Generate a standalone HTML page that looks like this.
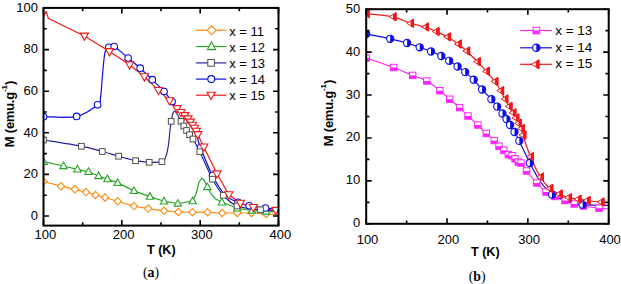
<!DOCTYPE html>
<html><head><meta charset="utf-8"><style>
html,body{margin:0;padding:0;background:#fff;}
body{width:621px;height:284px;position:relative;overflow:hidden;color:#000;}
div{-webkit-text-stroke:0;}
.ns{-webkit-text-stroke:0;}
</style></head><body>
<svg width="621" height="284" viewBox="0 0 621 284" style="position:absolute;left:0;top:0">
<defs><clipPath id="ca"><rect x="43.5" y="7.9" width="235" height="217.7"/></clipPath>
<clipPath id="cb"><rect x="366.2" y="9.2" width="242.5" height="214.6"/></clipPath></defs>
<g clip-path="url(#ca)">
<path d="M43.5 181.5L61 186.2L74.9 189.3L86 192.1L95.5 195L105 197.5L117.7 201.3L134 206.1L148.3 208.6L164.1 210.8L178.4 212L192.5 212.3L207.5 212.3L222.2 213L237.3 213L251.5 213L266.2 214L278.5 214.6" fill="none" stroke="#ff8a10" stroke-width="1.2" stroke-linejoin="round"/>
<path d="M43.5 161.7L63.5 166L77.4 169.3L88.5 171.8L98.6 176L107.5 179.1L117.7 182.9L134 190.9L149.9 196.6L164.1 201.3L177.8 203.5L192.7 201.1L196 194L199 182L202 178.2L204.5 181L207.3 187L212 195L216.1 199.3L221.9 202.3L237.2 208.3L252 210.5L266 211.5L278.5 212" fill="none" stroke="#26a626" stroke-width="1.2" stroke-linejoin="round"/>
<path d="M43.5 140C49.82 141.03 71.6 144.28 81.4 146.2C91.2 148.12 96.08 149.83 102.3 151.5C108.52 153.17 113.15 154.67 118.7 156.2C124.25 157.73 130.52 159.68 135.6 160.7C140.68 161.72 144.82 162.13 149.2 162.3C153.58 162.47 159.18 162.5 161.9 161.7C164.62 160.9 164.43 160.12 165.5 157.5C166.57 154.88 167.55 150.58 168.3 146C169.05 141.42 169.52 134.12 170 130C170.48 125.88 170.72 124.1 171.2 121.3C171.68 118.5 172.3 114.87 172.9 113.2C173.5 111.53 174.03 111.08 174.8 111.3C175.57 111.52 176.47 112.83 177.5 114.5C178.53 116.17 179.95 119.38 181 121.3C182.05 123.22 182.87 124.47 183.8 126C184.73 127.53 185.63 129.03 186.6 130.5C187.57 131.97 188.53 133.38 189.6 134.8C190.67 136.22 191.3 136.18 193 139C194.7 141.82 196.55 145 199.8 151.7C203.05 158.4 208.57 171.93 212.5 179.2C216.43 186.47 219.32 190.83 223.4 195.3C227.48 199.77 230.82 203.58 237 206C243.18 208.42 253.58 208.97 260.5 209.8C267.42 210.63 275.5 210.8 278.5 211" fill="none" stroke="#2424a0" stroke-width="1.2" stroke-linejoin="round"/>
<path d="M43.5 116.7C49.02 116.65 67.58 118.38 76.6 116.4C85.62 114.42 93.62 107.87 97.6 104.8C101.58 101.73 99.68 102.97 100.5 98C101.32 93.03 101.83 82.17 102.5 75C103.17 67.83 103.83 59.33 104.5 55C105.17 50.67 105.78 50.28 106.5 49C107.22 47.72 107.52 47.72 108.8 47.3C110.08 46.88 110.98 44.72 114.2 46.5C117.42 48.28 123.77 54.38 128.1 58C132.43 61.62 136.17 64.58 140.2 68.2C144.23 71.82 148.32 75.82 152.3 79.7C156.28 83.58 160.8 87.87 164.1 91.5C167.4 95.13 170.12 99 172.1 101.5C174.08 104 173.68 103.58 176 106.5C178.32 109.42 182.83 114.83 186 119C189.17 123.17 192.58 126.75 195 131.5C197.42 136.25 197.58 140.17 200.5 147.5C203.42 154.83 208.48 167.7 212.5 175.5C216.52 183.3 220.35 189.83 224.6 194.3C228.85 198.77 233.9 200.38 238 202.3C242.1 204.22 244.62 204.85 249.2 205.8C253.78 206.75 260.62 207.42 265.5 208C270.38 208.58 276.33 209.08 278.5 209.3" fill="none" stroke="#0c0ce8" stroke-width="1.2" stroke-linejoin="round"/>
<path d="M43.5 17L46 11.5L48.5 18.5L84.4 36L109.5 51.5L129.6 64.8L144.4 76.7L158.5 90.4L169.5 100.6L177 108.5L181 112.4L184.8 115.5L188 118.8L190.4 122L192.6 125.1L194.6 128.2L196.3 131.2L197.8 134.5L203.8 146.9L217 173.8L228.8 194.6L240.4 203.2L253.3 207.4L275.8 210.3L278.5 210.6" fill="none" stroke="#f01818" stroke-width="1.2" stroke-linejoin="round"/>
<path d="M43.5 177.8L47.2 181.5L43.5 185.2L39.8 181.5Z" fill="#fff" stroke="#ff8a10" stroke-width="1.1"/>
<path d="M61 182.5L64.7 186.2L61 189.9L57.3 186.2Z" fill="#fff" stroke="#ff8a10" stroke-width="1.1"/>
<path d="M74.9 185.6L78.6 189.3L74.9 193L71.2 189.3Z" fill="#fff" stroke="#ff8a10" stroke-width="1.1"/>
<path d="M86 188.4L89.7 192.1L86 195.8L82.3 192.1Z" fill="#fff" stroke="#ff8a10" stroke-width="1.1"/>
<path d="M95.5 191.3L99.2 195L95.5 198.7L91.8 195Z" fill="#fff" stroke="#ff8a10" stroke-width="1.1"/>
<path d="M105 193.8L108.7 197.5L105 201.2L101.3 197.5Z" fill="#fff" stroke="#ff8a10" stroke-width="1.1"/>
<path d="M117.7 197.6L121.4 201.3L117.7 205L114 201.3Z" fill="#fff" stroke="#ff8a10" stroke-width="1.1"/>
<path d="M134 202.4L137.7 206.1L134 209.8L130.3 206.1Z" fill="#fff" stroke="#ff8a10" stroke-width="1.1"/>
<path d="M148.3 204.9L152 208.6L148.3 212.3L144.6 208.6Z" fill="#fff" stroke="#ff8a10" stroke-width="1.1"/>
<path d="M164.1 207.1L167.8 210.8L164.1 214.5L160.4 210.8Z" fill="#fff" stroke="#ff8a10" stroke-width="1.1"/>
<path d="M178.4 208.3L182.1 212L178.4 215.7L174.7 212Z" fill="#fff" stroke="#ff8a10" stroke-width="1.1"/>
<path d="M192.5 208.6L196.2 212.3L192.5 216L188.8 212.3Z" fill="#fff" stroke="#ff8a10" stroke-width="1.1"/>
<path d="M207.5 208.6L211.2 212.3L207.5 216L203.8 212.3Z" fill="#fff" stroke="#ff8a10" stroke-width="1.1"/>
<path d="M222.2 209.3L225.9 213L222.2 216.7L218.5 213Z" fill="#fff" stroke="#ff8a10" stroke-width="1.1"/>
<path d="M237.3 209.3L241 213L237.3 216.7L233.6 213Z" fill="#fff" stroke="#ff8a10" stroke-width="1.1"/>
<path d="M251.5 209.3L255.2 213L251.5 216.7L247.8 213Z" fill="#fff" stroke="#ff8a10" stroke-width="1.1"/>
<path d="M266.2 210.3L269.9 214L266.2 217.7L262.5 214Z" fill="#fff" stroke="#ff8a10" stroke-width="1.1"/>
<path d="M43.5 157.74L47.2 164.34L39.8 164.34Z" fill="#fff" stroke="#26a626" stroke-width="1.1"/>
<path d="M63.5 162.04L67.2 168.64L59.8 168.64Z" fill="#fff" stroke="#26a626" stroke-width="1.1"/>
<path d="M77.4 165.34L81.1 171.94L73.7 171.94Z" fill="#fff" stroke="#26a626" stroke-width="1.1"/>
<path d="M88.5 167.84L92.2 174.44L84.8 174.44Z" fill="#fff" stroke="#26a626" stroke-width="1.1"/>
<path d="M98.6 172.04L102.3 178.64L94.9 178.64Z" fill="#fff" stroke="#26a626" stroke-width="1.1"/>
<path d="M107.5 175.14L111.2 181.74L103.8 181.74Z" fill="#fff" stroke="#26a626" stroke-width="1.1"/>
<path d="M117.7 178.94L121.4 185.54L114 185.54Z" fill="#fff" stroke="#26a626" stroke-width="1.1"/>
<path d="M134 186.94L137.7 193.54L130.3 193.54Z" fill="#fff" stroke="#26a626" stroke-width="1.1"/>
<path d="M149.9 192.64L153.6 199.24L146.2 199.24Z" fill="#fff" stroke="#26a626" stroke-width="1.1"/>
<path d="M164.1 197.34L167.8 203.94L160.4 203.94Z" fill="#fff" stroke="#26a626" stroke-width="1.1"/>
<path d="M177.8 199.54L181.5 206.14L174.1 206.14Z" fill="#fff" stroke="#26a626" stroke-width="1.1"/>
<path d="M192.7 197.14L196.4 203.74L189 203.74Z" fill="#fff" stroke="#26a626" stroke-width="1.1"/>
<path d="M207.3 183.04L211 189.64L203.6 189.64Z" fill="#fff" stroke="#26a626" stroke-width="1.1"/>
<path d="M221.9 198.34L225.6 204.94L218.2 204.94Z" fill="#fff" stroke="#26a626" stroke-width="1.1"/>
<path d="M237.2 204.34L240.9 210.94L233.5 210.94Z" fill="#fff" stroke="#26a626" stroke-width="1.1"/>
<path d="M252 206.54L255.7 213.14L248.3 213.14Z" fill="#fff" stroke="#26a626" stroke-width="1.1"/>
<path d="M266 207.54L269.7 214.14L262.3 214.14Z" fill="#fff" stroke="#26a626" stroke-width="1.1"/>
<circle cx="43.5" cy="116.7" r="3.3" fill="#fff" stroke="#0c0ce8" stroke-width="1.1"/>
<circle cx="76.6" cy="116.4" r="3.3" fill="#fff" stroke="#0c0ce8" stroke-width="1.1"/>
<circle cx="97.6" cy="104.8" r="3.3" fill="#fff" stroke="#0c0ce8" stroke-width="1.1"/>
<circle cx="108.8" cy="47.3" r="3.3" fill="#fff" stroke="#0c0ce8" stroke-width="1.1"/>
<circle cx="114.2" cy="46.5" r="3.3" fill="#fff" stroke="#0c0ce8" stroke-width="1.1"/>
<circle cx="128.1" cy="58" r="3.3" fill="#fff" stroke="#0c0ce8" stroke-width="1.1"/>
<circle cx="140.2" cy="68.2" r="3.3" fill="#fff" stroke="#0c0ce8" stroke-width="1.1"/>
<circle cx="152.3" cy="79.7" r="3.3" fill="#fff" stroke="#0c0ce8" stroke-width="1.1"/>
<circle cx="164.1" cy="91.5" r="3.3" fill="#fff" stroke="#0c0ce8" stroke-width="1.1"/>
<circle cx="172.1" cy="101.5" r="3.3" fill="#fff" stroke="#0c0ce8" stroke-width="1.1"/>
<circle cx="200.5" cy="147.5" r="3.3" fill="#fff" stroke="#0c0ce8" stroke-width="1.1"/>
<circle cx="212.5" cy="175.5" r="3.3" fill="#fff" stroke="#0c0ce8" stroke-width="1.1"/>
<circle cx="238" cy="202.3" r="3.3" fill="#fff" stroke="#0c0ce8" stroke-width="1.1"/>
<circle cx="249.2" cy="205.8" r="3.3" fill="#fff" stroke="#0c0ce8" stroke-width="1.1"/>
<circle cx="265.5" cy="208" r="3.3" fill="#fff" stroke="#0c0ce8" stroke-width="1.1"/>
<rect x="40.65" y="137.15" width="5.7" height="5.7" fill="#fff" stroke="#505050" stroke-width="1.0"/>
<rect x="78.55" y="143.35" width="5.7" height="5.7" fill="#fff" stroke="#505050" stroke-width="1.0"/>
<rect x="99.45" y="148.65" width="5.7" height="5.7" fill="#fff" stroke="#505050" stroke-width="1.0"/>
<rect x="115.85" y="153.35" width="5.7" height="5.7" fill="#fff" stroke="#505050" stroke-width="1.0"/>
<rect x="132.75" y="157.85" width="5.7" height="5.7" fill="#fff" stroke="#505050" stroke-width="1.0"/>
<rect x="146.35" y="159.45" width="5.7" height="5.7" fill="#fff" stroke="#505050" stroke-width="1.0"/>
<rect x="159.05" y="158.85" width="5.7" height="5.7" fill="#fff" stroke="#505050" stroke-width="1.0"/>
<rect x="168.35" y="118.45" width="5.7" height="5.7" fill="#fff" stroke="#505050" stroke-width="1.0"/>
<rect x="178.15" y="118.45" width="5.7" height="5.7" fill="#fff" stroke="#505050" stroke-width="1.0"/>
<rect x="180.95" y="123.15" width="5.7" height="5.7" fill="#fff" stroke="#505050" stroke-width="1.0"/>
<rect x="183.75" y="127.65" width="5.7" height="5.7" fill="#fff" stroke="#505050" stroke-width="1.0"/>
<rect x="186.75" y="131.95" width="5.7" height="5.7" fill="#fff" stroke="#505050" stroke-width="1.0"/>
<rect x="190.15" y="136.15" width="5.7" height="5.7" fill="#fff" stroke="#505050" stroke-width="1.0"/>
<rect x="196.95" y="148.85" width="5.7" height="5.7" fill="#fff" stroke="#505050" stroke-width="1.0"/>
<rect x="209.65" y="176.35" width="5.7" height="5.7" fill="#fff" stroke="#505050" stroke-width="1.0"/>
<rect x="220.55" y="192.45" width="5.7" height="5.7" fill="#fff" stroke="#505050" stroke-width="1.0"/>
<rect x="234.15" y="203.15" width="5.7" height="5.7" fill="#fff" stroke="#505050" stroke-width="1.0"/>
<rect x="257.65" y="206.95" width="5.7" height="5.7" fill="#fff" stroke="#505050" stroke-width="1.0"/>
<path d="M80.3 33.12L88.5 33.12L84.4 40.32Z" fill="#fff" stroke="#f01818" stroke-width="1.1"/>
<path d="M105.4 48.62L113.6 48.62L109.5 55.82Z" fill="#fff" stroke="#f01818" stroke-width="1.1"/>
<path d="M125.5 61.92L133.7 61.92L129.6 69.12Z" fill="#fff" stroke="#f01818" stroke-width="1.1"/>
<path d="M140.3 73.82L148.5 73.82L144.4 81.02Z" fill="#fff" stroke="#f01818" stroke-width="1.1"/>
<path d="M154.4 87.52L162.6 87.52L158.5 94.72Z" fill="#fff" stroke="#f01818" stroke-width="1.1"/>
<path d="M165.4 97.72L173.6 97.72L169.5 104.92Z" fill="#fff" stroke="#f01818" stroke-width="1.1"/>
<path d="M172.9 105.62L181.1 105.62L177 112.82Z" fill="#fff" stroke="#f01818" stroke-width="1.1"/>
<path d="M176.9 109.52L185.1 109.52L181 116.72Z" fill="#fff" stroke="#f01818" stroke-width="1.1"/>
<path d="M180.7 112.62L188.9 112.62L184.8 119.82Z" fill="#fff" stroke="#f01818" stroke-width="1.1"/>
<path d="M183.9 115.92L192.1 115.92L188 123.12Z" fill="#fff" stroke="#f01818" stroke-width="1.1"/>
<path d="M186.3 119.12L194.5 119.12L190.4 126.32Z" fill="#fff" stroke="#f01818" stroke-width="1.1"/>
<path d="M188.5 122.22L196.7 122.22L192.6 129.42Z" fill="#fff" stroke="#f01818" stroke-width="1.1"/>
<path d="M190.5 125.32L198.7 125.32L194.6 132.52Z" fill="#fff" stroke="#f01818" stroke-width="1.1"/>
<path d="M192.2 128.32L200.4 128.32L196.3 135.52Z" fill="#fff" stroke="#f01818" stroke-width="1.1"/>
<path d="M193.7 131.62L201.9 131.62L197.8 138.82Z" fill="#fff" stroke="#f01818" stroke-width="1.1"/>
<path d="M199.7 144.02L207.9 144.02L203.8 151.22Z" fill="#fff" stroke="#f01818" stroke-width="1.1"/>
<path d="M212.9 170.92L221.1 170.92L217 178.12Z" fill="#fff" stroke="#f01818" stroke-width="1.1"/>
<path d="M224.7 191.72L232.9 191.72L228.8 198.92Z" fill="#fff" stroke="#f01818" stroke-width="1.1"/>
<path d="M236.3 200.32L244.5 200.32L240.4 207.52Z" fill="#fff" stroke="#f01818" stroke-width="1.1"/>
<path d="M249.2 204.52L257.4 204.52L253.3 211.72Z" fill="#fff" stroke="#f01818" stroke-width="1.1"/>
<path d="M271.7 207.42L279.9 207.42L275.8 214.62Z" fill="#fff" stroke="#f01818" stroke-width="1.1"/>
</g>
<rect x="43.5" y="7.9" width="235" height="217.7" fill="none" stroke="#000" stroke-width="2"/>
<path d="M43.5 225.6V220.1M43.5 7.9V13.4M121.83 225.6V220.1M121.83 7.9V13.4M200.17 225.6V220.1M200.17 7.9V13.4M278.5 225.6V220.1M278.5 7.9V13.4M82.67 225.6V222.3M82.67 7.9V11.2M161 225.6V222.3M161 7.9V11.2M239.33 225.6V222.3M239.33 7.9V11.2M43.5 216H49M278.5 216H273M43.5 174.4H49M278.5 174.4H273M43.5 132.8H49M278.5 132.8H273M43.5 91.2H49M278.5 91.2H273M43.5 49.6H49M278.5 49.6H273M43.5 8H49M278.5 8H273M43.5 195.2H46.8M278.5 195.2H275.2M43.5 153.6H46.8M278.5 153.6H275.2M43.5 112H46.8M278.5 112H275.2M43.5 70.4H46.8M278.5 70.4H275.2M43.5 28.8H46.8M278.5 28.8H275.2" stroke="#000" stroke-width="1.6" fill="none"/>
<path d="M195.9 30.3H226.3" stroke="#ff8a10" stroke-width="1.2"/>
<path d="M211.6 25.9L216 30.3L211.6 34.7L207.2 30.3Z" fill="#fff" stroke="#ff8a10" stroke-width="1.1"/>
<path d="M195.9 46.5H226.3" stroke="#26a626" stroke-width="1.2"/>
<path d="M211.5 41.82L215.6 49.62L207.4 49.62Z" fill="#fff" stroke="#26a626" stroke-width="1.1"/>
<path d="M195.9 62.9H226.3" stroke="#2424a0" stroke-width="1.2"/>
<rect x="207.8" y="59.6" width="6.6" height="6.6" fill="#fff" stroke="#505050" stroke-width="1.0"/>
<path d="M195.9 79.1H226.3" stroke="#0c0ce8" stroke-width="1.2"/>
<circle cx="211.3" cy="79.1" r="3.5" fill="#fff" stroke="#0c0ce8" stroke-width="1.1"/>
<path d="M195.9 95.2H226.3" stroke="#f01818" stroke-width="1.2"/>
<path d="M207 92.24L215.2 92.24L211.1 99.64Z" fill="#fff" stroke="#f01818" stroke-width="1.1"/>
<g clip-path="url(#cb)">
<path d="M366.2 58C370.75 59.58 385.75 64.6 393.5 67.5C401.25 70.4 407.15 73.15 412.7 75.4C418.25 77.65 422.27 78.45 426.8 81C431.33 83.55 436.08 87.67 439.9 90.7C443.72 93.73 446.42 96.38 449.7 99.2C452.98 102.02 456.55 104.8 459.6 107.6C462.65 110.4 464.95 113.1 468 116C471.05 118.9 474.85 122.08 477.9 125C480.95 127.92 483.58 130.9 486.3 133.5C489.02 136.1 492.08 138.48 494.2 140.6C496.32 142.72 497.4 144.57 499 146.2C500.6 147.83 502.25 149 503.8 150.4C505.35 151.8 506.93 153.72 508.3 154.6C509.67 155.48 510.87 155 512 155.7C513.13 156.4 514.05 157.75 515.1 158.8C516.15 159.85 517.32 161.3 518.3 162C519.28 162.7 519.63 161.5 521 163C522.37 164.5 523.87 167.67 526.5 171C529.13 174.33 533.55 179.5 536.8 183C540.05 186.5 542.97 189.75 546 192C549.03 194.25 551.83 195.08 555 196.5C558.17 197.92 561.8 199.25 565 200.5C568.2 201.75 571.12 203.08 574.2 204C577.28 204.92 579.37 205.3 583.5 206C587.63 206.7 594.8 207.73 599 208.2C603.2 208.67 607.08 208.7 608.7 208.8" fill="none" stroke="#ff22ff" stroke-width="1.2" stroke-linejoin="round"/>
<path d="M366.2 34C370.2 34.8 383.38 37.3 390.2 38.8C397.02 40.3 402.18 41.58 407.1 43C412.02 44.42 415.72 45.88 419.7 47.3C423.68 48.72 427.4 50.05 431 51.5C434.6 52.95 438.27 54.45 441.3 56C444.33 57.55 446.48 59.05 449.2 60.8C451.92 62.55 454.93 64.62 457.6 66.5C460.27 68.38 462.52 69.9 465.2 72.1C467.88 74.3 470.88 76.8 473.7 79.7C476.52 82.6 479.15 86.25 482.1 89.5C485.05 92.75 488.88 96.35 491.4 99.2C493.92 102.05 495.35 104.22 497.2 106.6C499.05 108.98 500.95 111.42 502.5 113.5C504.05 115.58 505.23 117.18 506.5 119.1C507.77 121.02 508.77 122.85 510.1 125C511.43 127.15 512.97 129.35 514.5 132C516.03 134.65 516.75 135.73 519.3 140.9C521.85 146.07 526.35 156.32 529.8 163C533.25 169.68 536.3 175.73 540 181C543.7 186.27 547.67 191.3 552 194.6C556.33 197.9 560.9 199.12 566 200.8C571.1 202.48 575.48 203.93 582.6 204.7C589.72 205.47 604.35 205.28 608.7 205.4" fill="none" stroke="#0c0ce8" stroke-width="1.2" stroke-linejoin="round"/>
<path d="M366.2 13.5C370.67 14.05 385.62 15.17 393 16.8C400.38 18.43 405.1 21.6 410.5 23.3C415.9 25 421.15 25.63 425.4 27C429.65 28.37 432.32 29.85 436 31.5C439.68 33.15 443.8 34.82 447.5 36.9C451.2 38.98 455.02 41.65 458.2 44C461.38 46.35 463.42 48.05 466.6 51C469.78 53.95 474.02 58.32 477.3 61.7C480.58 65.08 483.38 68 486.3 71.3C489.22 74.6 492.42 78.28 494.8 81.5C497.18 84.72 498.93 87.68 500.6 90.6C502.27 93.52 503.4 96.37 504.8 99C506.2 101.63 507.67 104.1 509 106.4C510.33 108.7 511.67 110.87 512.8 112.8C513.93 114.73 514.85 116.25 515.8 118C516.75 119.75 517.58 121.53 518.5 123.3C519.42 125.07 520.58 126.65 521.3 128.6C522.02 130.55 521.27 130.32 522.8 135C524.33 139.68 527.57 149.7 530.5 156.7C533.43 163.7 537.18 171.7 540.4 177C543.62 182.3 546.67 185.67 549.8 188.5C552.93 191.33 556.08 192.48 559.2 194C562.32 195.52 565.37 196.73 568.5 197.6C571.63 198.47 574.92 198.72 578 199.2C581.08 199.68 583.17 200.03 587 200.5C590.83 200.97 597.38 201.65 601 202C604.62 202.35 607.42 202.5 608.7 202.6" fill="none" stroke="#f01818" stroke-width="1.2" stroke-linejoin="round"/>
<rect x="363" y="54.8" width="6.4" height="6.4" fill="#fff" stroke="#ff22ff" stroke-width="1.0"/><rect x="363" y="58" width="6.4" height="3.2" fill="#ff22ff"/>
<rect x="390.3" y="64.3" width="6.4" height="6.4" fill="#fff" stroke="#ff22ff" stroke-width="1.0"/><rect x="390.3" y="67.5" width="6.4" height="3.2" fill="#ff22ff"/>
<rect x="409.5" y="72.2" width="6.4" height="6.4" fill="#fff" stroke="#ff22ff" stroke-width="1.0"/><rect x="409.5" y="75.4" width="6.4" height="3.2" fill="#ff22ff"/>
<rect x="423.6" y="77.8" width="6.4" height="6.4" fill="#fff" stroke="#ff22ff" stroke-width="1.0"/><rect x="423.6" y="81" width="6.4" height="3.2" fill="#ff22ff"/>
<rect x="436.7" y="87.5" width="6.4" height="6.4" fill="#fff" stroke="#ff22ff" stroke-width="1.0"/><rect x="436.7" y="90.7" width="6.4" height="3.2" fill="#ff22ff"/>
<rect x="446.5" y="96" width="6.4" height="6.4" fill="#fff" stroke="#ff22ff" stroke-width="1.0"/><rect x="446.5" y="99.2" width="6.4" height="3.2" fill="#ff22ff"/>
<rect x="456.4" y="104.4" width="6.4" height="6.4" fill="#fff" stroke="#ff22ff" stroke-width="1.0"/><rect x="456.4" y="107.6" width="6.4" height="3.2" fill="#ff22ff"/>
<rect x="464.8" y="112.8" width="6.4" height="6.4" fill="#fff" stroke="#ff22ff" stroke-width="1.0"/><rect x="464.8" y="116" width="6.4" height="3.2" fill="#ff22ff"/>
<rect x="474.7" y="121.8" width="6.4" height="6.4" fill="#fff" stroke="#ff22ff" stroke-width="1.0"/><rect x="474.7" y="125" width="6.4" height="3.2" fill="#ff22ff"/>
<rect x="483.1" y="130.3" width="6.4" height="6.4" fill="#fff" stroke="#ff22ff" stroke-width="1.0"/><rect x="483.1" y="133.5" width="6.4" height="3.2" fill="#ff22ff"/>
<rect x="491" y="137.4" width="6.4" height="6.4" fill="#fff" stroke="#ff22ff" stroke-width="1.0"/><rect x="491" y="140.6" width="6.4" height="3.2" fill="#ff22ff"/>
<rect x="495.8" y="143" width="6.4" height="6.4" fill="#fff" stroke="#ff22ff" stroke-width="1.0"/><rect x="495.8" y="146.2" width="6.4" height="3.2" fill="#ff22ff"/>
<rect x="500.6" y="147.2" width="6.4" height="6.4" fill="#fff" stroke="#ff22ff" stroke-width="1.0"/><rect x="500.6" y="150.4" width="6.4" height="3.2" fill="#ff22ff"/>
<rect x="505.1" y="151.4" width="6.4" height="6.4" fill="#fff" stroke="#ff22ff" stroke-width="1.0"/><rect x="505.1" y="154.6" width="6.4" height="3.2" fill="#ff22ff"/>
<rect x="508.8" y="152.5" width="6.4" height="6.4" fill="#fff" stroke="#ff22ff" stroke-width="1.0"/><rect x="508.8" y="155.7" width="6.4" height="3.2" fill="#ff22ff"/>
<rect x="511.9" y="155.6" width="6.4" height="6.4" fill="#fff" stroke="#ff22ff" stroke-width="1.0"/><rect x="511.9" y="158.8" width="6.4" height="3.2" fill="#ff22ff"/>
<rect x="515.1" y="158.8" width="6.4" height="6.4" fill="#fff" stroke="#ff22ff" stroke-width="1.0"/><rect x="515.1" y="162" width="6.4" height="3.2" fill="#ff22ff"/>
<rect x="517.8" y="159.8" width="6.4" height="6.4" fill="#fff" stroke="#ff22ff" stroke-width="1.0"/><rect x="517.8" y="163" width="6.4" height="3.2" fill="#ff22ff"/>
<rect x="523.3" y="167.8" width="6.4" height="6.4" fill="#fff" stroke="#ff22ff" stroke-width="1.0"/><rect x="523.3" y="171" width="6.4" height="3.2" fill="#ff22ff"/>
<rect x="533.6" y="179.8" width="6.4" height="6.4" fill="#fff" stroke="#ff22ff" stroke-width="1.0"/><rect x="533.6" y="183" width="6.4" height="3.2" fill="#ff22ff"/>
<rect x="542.8" y="188.8" width="6.4" height="6.4" fill="#fff" stroke="#ff22ff" stroke-width="1.0"/><rect x="542.8" y="192" width="6.4" height="3.2" fill="#ff22ff"/>
<rect x="551.8" y="193.3" width="6.4" height="6.4" fill="#fff" stroke="#ff22ff" stroke-width="1.0"/><rect x="551.8" y="196.5" width="6.4" height="3.2" fill="#ff22ff"/>
<rect x="561.8" y="197.3" width="6.4" height="6.4" fill="#fff" stroke="#ff22ff" stroke-width="1.0"/><rect x="561.8" y="200.5" width="6.4" height="3.2" fill="#ff22ff"/>
<rect x="571" y="200.8" width="6.4" height="6.4" fill="#fff" stroke="#ff22ff" stroke-width="1.0"/><rect x="571" y="204" width="6.4" height="3.2" fill="#ff22ff"/>
<rect x="580.3" y="202.8" width="6.4" height="6.4" fill="#fff" stroke="#ff22ff" stroke-width="1.0"/><rect x="580.3" y="206" width="6.4" height="3.2" fill="#ff22ff"/>
<rect x="595.8" y="205" width="6.4" height="6.4" fill="#fff" stroke="#ff22ff" stroke-width="1.0"/><rect x="595.8" y="208.2" width="6.4" height="3.2" fill="#ff22ff"/>
<circle cx="366.2" cy="34" r="3.6" fill="#fff" stroke="#0c0ce8" stroke-width="1.1"/><path d="M366.2 30.4A3.6 3.6 0 0 1 366.2 37.6Z" fill="#0c0ce8"/>
<circle cx="390.2" cy="38.8" r="3.6" fill="#fff" stroke="#0c0ce8" stroke-width="1.1"/><path d="M390.2 35.2A3.6 3.6 0 0 1 390.2 42.4Z" fill="#0c0ce8"/>
<circle cx="407.1" cy="43" r="3.6" fill="#fff" stroke="#0c0ce8" stroke-width="1.1"/><path d="M407.1 39.4A3.6 3.6 0 0 1 407.1 46.6Z" fill="#0c0ce8"/>
<circle cx="419.7" cy="47.3" r="3.6" fill="#fff" stroke="#0c0ce8" stroke-width="1.1"/><path d="M419.7 43.7A3.6 3.6 0 0 1 419.7 50.9Z" fill="#0c0ce8"/>
<circle cx="431" cy="51.5" r="3.6" fill="#fff" stroke="#0c0ce8" stroke-width="1.1"/><path d="M431 47.9A3.6 3.6 0 0 1 431 55.1Z" fill="#0c0ce8"/>
<circle cx="441.3" cy="56" r="3.6" fill="#fff" stroke="#0c0ce8" stroke-width="1.1"/><path d="M441.3 52.4A3.6 3.6 0 0 1 441.3 59.6Z" fill="#0c0ce8"/>
<circle cx="449.2" cy="60.8" r="3.6" fill="#fff" stroke="#0c0ce8" stroke-width="1.1"/><path d="M449.2 57.2A3.6 3.6 0 0 1 449.2 64.4Z" fill="#0c0ce8"/>
<circle cx="457.6" cy="66.5" r="3.6" fill="#fff" stroke="#0c0ce8" stroke-width="1.1"/><path d="M457.6 62.9A3.6 3.6 0 0 1 457.6 70.1Z" fill="#0c0ce8"/>
<circle cx="465.2" cy="72.1" r="3.6" fill="#fff" stroke="#0c0ce8" stroke-width="1.1"/><path d="M465.2 68.5A3.6 3.6 0 0 1 465.2 75.7Z" fill="#0c0ce8"/>
<circle cx="473.7" cy="79.7" r="3.6" fill="#fff" stroke="#0c0ce8" stroke-width="1.1"/><path d="M473.7 76.1A3.6 3.6 0 0 1 473.7 83.3Z" fill="#0c0ce8"/>
<circle cx="482.1" cy="89.5" r="3.6" fill="#fff" stroke="#0c0ce8" stroke-width="1.1"/><path d="M482.1 85.9A3.6 3.6 0 0 1 482.1 93.1Z" fill="#0c0ce8"/>
<circle cx="491.4" cy="99.2" r="3.6" fill="#fff" stroke="#0c0ce8" stroke-width="1.1"/><path d="M491.4 95.6A3.6 3.6 0 0 1 491.4 102.8Z" fill="#0c0ce8"/>
<circle cx="497.2" cy="106.6" r="3.6" fill="#fff" stroke="#0c0ce8" stroke-width="1.1"/><path d="M497.2 103A3.6 3.6 0 0 1 497.2 110.2Z" fill="#0c0ce8"/>
<circle cx="502.5" cy="113.5" r="3.6" fill="#fff" stroke="#0c0ce8" stroke-width="1.1"/><path d="M502.5 109.9A3.6 3.6 0 0 1 502.5 117.1Z" fill="#0c0ce8"/>
<circle cx="506.5" cy="119.1" r="3.6" fill="#fff" stroke="#0c0ce8" stroke-width="1.1"/><path d="M506.5 115.5A3.6 3.6 0 0 1 506.5 122.7Z" fill="#0c0ce8"/>
<circle cx="510.1" cy="125" r="3.6" fill="#fff" stroke="#0c0ce8" stroke-width="1.1"/><path d="M510.1 121.4A3.6 3.6 0 0 1 510.1 128.6Z" fill="#0c0ce8"/>
<circle cx="514.5" cy="132" r="3.6" fill="#fff" stroke="#0c0ce8" stroke-width="1.1"/><path d="M514.5 128.4A3.6 3.6 0 0 1 514.5 135.6Z" fill="#0c0ce8"/>
<circle cx="519.3" cy="140.9" r="3.6" fill="#fff" stroke="#0c0ce8" stroke-width="1.1"/><path d="M519.3 137.3A3.6 3.6 0 0 1 519.3 144.5Z" fill="#0c0ce8"/>
<circle cx="529.8" cy="163" r="3.6" fill="#fff" stroke="#0c0ce8" stroke-width="1.1"/><path d="M529.8 159.4A3.6 3.6 0 0 1 529.8 166.6Z" fill="#0c0ce8"/>
<circle cx="552" cy="194.6" r="3.6" fill="#fff" stroke="#0c0ce8" stroke-width="1.1"/><path d="M552 191A3.6 3.6 0 0 1 552 198.2Z" fill="#0c0ce8"/>
<circle cx="582.6" cy="204.7" r="3.6" fill="#fff" stroke="#0c0ce8" stroke-width="1.1"/><path d="M582.6 201.1A3.6 3.6 0 0 1 582.6 208.3Z" fill="#0c0ce8"/>
<path d="M362.46 13.5L369.26 9.4L369.26 17.6Z" fill="#fff" stroke="#f01818" stroke-width="1.0"/><path d="M366.74 10.92L369.26 9.4L369.26 17.6L366.74 16.08Z" fill="#f01818" stroke="#f01818" stroke-width="1.0"/>
<path d="M389.26 16.8L396.06 12.7L396.06 20.9Z" fill="#fff" stroke="#f01818" stroke-width="1.0"/><path d="M393.54 14.22L396.06 12.7L396.06 20.9L393.54 19.38Z" fill="#f01818" stroke="#f01818" stroke-width="1.0"/>
<path d="M406.76 23.3L413.56 19.2L413.56 27.4Z" fill="#fff" stroke="#f01818" stroke-width="1.0"/><path d="M411.04 20.72L413.56 19.2L413.56 27.4L411.04 25.88Z" fill="#f01818" stroke="#f01818" stroke-width="1.0"/>
<path d="M421.66 27L428.46 22.9L428.46 31.1Z" fill="#fff" stroke="#f01818" stroke-width="1.0"/><path d="M425.94 24.42L428.46 22.9L428.46 31.1L425.94 29.58Z" fill="#f01818" stroke="#f01818" stroke-width="1.0"/>
<path d="M432.26 31.5L439.06 27.4L439.06 35.6Z" fill="#fff" stroke="#f01818" stroke-width="1.0"/><path d="M436.54 28.92L439.06 27.4L439.06 35.6L436.54 34.08Z" fill="#f01818" stroke="#f01818" stroke-width="1.0"/>
<path d="M443.76 36.9L450.56 32.8L450.56 41Z" fill="#fff" stroke="#f01818" stroke-width="1.0"/><path d="M448.04 34.32L450.56 32.8L450.56 41L448.04 39.48Z" fill="#f01818" stroke="#f01818" stroke-width="1.0"/>
<path d="M454.46 44L461.26 39.9L461.26 48.1Z" fill="#fff" stroke="#f01818" stroke-width="1.0"/><path d="M458.74 41.42L461.26 39.9L461.26 48.1L458.74 46.58Z" fill="#f01818" stroke="#f01818" stroke-width="1.0"/>
<path d="M462.86 51L469.66 46.9L469.66 55.1Z" fill="#fff" stroke="#f01818" stroke-width="1.0"/><path d="M467.14 48.42L469.66 46.9L469.66 55.1L467.14 53.58Z" fill="#f01818" stroke="#f01818" stroke-width="1.0"/>
<path d="M473.56 61.7L480.36 57.6L480.36 65.8Z" fill="#fff" stroke="#f01818" stroke-width="1.0"/><path d="M477.84 59.12L480.36 57.6L480.36 65.8L477.84 64.28Z" fill="#f01818" stroke="#f01818" stroke-width="1.0"/>
<path d="M482.56 71.3L489.36 67.2L489.36 75.4Z" fill="#fff" stroke="#f01818" stroke-width="1.0"/><path d="M486.84 68.72L489.36 67.2L489.36 75.4L486.84 73.88Z" fill="#f01818" stroke="#f01818" stroke-width="1.0"/>
<path d="M491.06 81.5L497.86 77.4L497.86 85.6Z" fill="#fff" stroke="#f01818" stroke-width="1.0"/><path d="M495.34 78.92L497.86 77.4L497.86 85.6L495.34 84.08Z" fill="#f01818" stroke="#f01818" stroke-width="1.0"/>
<path d="M496.86 90.6L503.66 86.5L503.66 94.7Z" fill="#fff" stroke="#f01818" stroke-width="1.0"/><path d="M501.14 88.02L503.66 86.5L503.66 94.7L501.14 93.18Z" fill="#f01818" stroke="#f01818" stroke-width="1.0"/>
<path d="M501.06 99L507.86 94.9L507.86 103.1Z" fill="#fff" stroke="#f01818" stroke-width="1.0"/><path d="M505.34 96.42L507.86 94.9L507.86 103.1L505.34 101.58Z" fill="#f01818" stroke="#f01818" stroke-width="1.0"/>
<path d="M505.26 106.4L512.06 102.3L512.06 110.5Z" fill="#fff" stroke="#f01818" stroke-width="1.0"/><path d="M509.54 103.82L512.06 102.3L512.06 110.5L509.54 108.98Z" fill="#f01818" stroke="#f01818" stroke-width="1.0"/>
<path d="M509.06 112.8L515.86 108.7L515.86 116.9Z" fill="#fff" stroke="#f01818" stroke-width="1.0"/><path d="M513.34 110.22L515.86 108.7L515.86 116.9L513.34 115.38Z" fill="#f01818" stroke="#f01818" stroke-width="1.0"/>
<path d="M512.06 118L518.86 113.9L518.86 122.1Z" fill="#fff" stroke="#f01818" stroke-width="1.0"/><path d="M516.34 115.42L518.86 113.9L518.86 122.1L516.34 120.58Z" fill="#f01818" stroke="#f01818" stroke-width="1.0"/>
<path d="M514.76 123.3L521.56 119.2L521.56 127.4Z" fill="#fff" stroke="#f01818" stroke-width="1.0"/><path d="M519.04 120.72L521.56 119.2L521.56 127.4L519.04 125.88Z" fill="#f01818" stroke="#f01818" stroke-width="1.0"/>
<path d="M517.56 128.6L524.36 124.5L524.36 132.7Z" fill="#fff" stroke="#f01818" stroke-width="1.0"/><path d="M521.84 126.02L524.36 124.5L524.36 132.7L521.84 131.18Z" fill="#f01818" stroke="#f01818" stroke-width="1.0"/>
<path d="M519.06 135L525.86 130.9L525.86 139.1Z" fill="#fff" stroke="#f01818" stroke-width="1.0"/><path d="M523.34 132.42L525.86 130.9L525.86 139.1L523.34 137.58Z" fill="#f01818" stroke="#f01818" stroke-width="1.0"/>
<path d="M526.76 156.7L533.56 152.6L533.56 160.8Z" fill="#fff" stroke="#f01818" stroke-width="1.0"/><path d="M531.04 154.12L533.56 152.6L533.56 160.8L531.04 159.28Z" fill="#f01818" stroke="#f01818" stroke-width="1.0"/>
<path d="M536.66 177L543.46 172.9L543.46 181.1Z" fill="#fff" stroke="#f01818" stroke-width="1.0"/><path d="M540.94 174.42L543.46 172.9L543.46 181.1L540.94 179.58Z" fill="#f01818" stroke="#f01818" stroke-width="1.0"/>
<path d="M546.06 188.5L552.86 184.4L552.86 192.6Z" fill="#fff" stroke="#f01818" stroke-width="1.0"/><path d="M550.34 185.92L552.86 184.4L552.86 192.6L550.34 191.08Z" fill="#f01818" stroke="#f01818" stroke-width="1.0"/>
<path d="M555.46 194L562.26 189.9L562.26 198.1Z" fill="#fff" stroke="#f01818" stroke-width="1.0"/><path d="M559.74 191.42L562.26 189.9L562.26 198.1L559.74 196.58Z" fill="#f01818" stroke="#f01818" stroke-width="1.0"/>
<path d="M564.76 197.6L571.56 193.5L571.56 201.7Z" fill="#fff" stroke="#f01818" stroke-width="1.0"/><path d="M569.04 195.02L571.56 193.5L571.56 201.7L569.04 200.18Z" fill="#f01818" stroke="#f01818" stroke-width="1.0"/>
<path d="M574.26 199.2L581.06 195.1L581.06 203.3Z" fill="#fff" stroke="#f01818" stroke-width="1.0"/><path d="M578.54 196.62L581.06 195.1L581.06 203.3L578.54 201.78Z" fill="#f01818" stroke="#f01818" stroke-width="1.0"/>
<path d="M583.26 200.5L590.06 196.4L590.06 204.6Z" fill="#fff" stroke="#f01818" stroke-width="1.0"/><path d="M587.54 197.92L590.06 196.4L590.06 204.6L587.54 203.08Z" fill="#f01818" stroke="#f01818" stroke-width="1.0"/>
<path d="M597.26 202L604.06 197.9L604.06 206.1Z" fill="#fff" stroke="#f01818" stroke-width="1.0"/><path d="M601.54 199.42L604.06 197.9L604.06 206.1L601.54 204.58Z" fill="#f01818" stroke="#f01818" stroke-width="1.0"/>
</g>
<rect x="366.2" y="9.2" width="242.5" height="214.6" fill="none" stroke="#000" stroke-width="2"/>
<path d="M366.2 223.8V218.3M366.2 9.2V14.7M447.03 223.8V218.3M447.03 9.2V14.7M527.87 223.8V218.3M527.87 9.2V14.7M608.7 223.8V218.3M608.7 9.2V14.7M406.62 223.8V220.5M406.62 9.2V12.5M487.45 223.8V220.5M487.45 9.2V12.5M568.28 223.8V220.5M568.28 9.2V12.5M366.2 223.8H371.7M608.7 223.8H603.2M366.2 180.88H371.7M608.7 180.88H603.2M366.2 137.96H371.7M608.7 137.96H603.2M366.2 95.04H371.7M608.7 95.04H603.2M366.2 52.12H371.7M608.7 52.12H603.2M366.2 9.2H371.7M608.7 9.2H603.2M366.2 202.34H369.5M608.7 202.34H605.4M366.2 159.42H369.5M608.7 159.42H605.4M366.2 116.5H369.5M608.7 116.5H605.4M366.2 73.58H369.5M608.7 73.58H605.4M366.2 30.66H369.5M608.7 30.66H605.4" stroke="#000" stroke-width="1.6" fill="none"/>
<path d="M520.2 30.5H552" stroke="#ff22ff" stroke-width="1.2"/>
<rect x="533.1" y="27.2" width="6.6" height="6.6" fill="#fff" stroke="#ff22ff" stroke-width="1.0"/><rect x="533.1" y="30.5" width="6.6" height="3.3" fill="#ff22ff"/>
<path d="M520.2 47.8H552" stroke="#0c0ce8" stroke-width="1.2"/>
<circle cx="536.3" cy="47.8" r="3.7" fill="#fff" stroke="#0c0ce8" stroke-width="1.1"/><path d="M536.3 44.1A3.7 3.7 0 0 1 536.3 51.5Z" fill="#0c0ce8"/>
<path d="M520.2 64.3H552" stroke="#f01818" stroke-width="1.2"/>
<path d="M531.53 64.3L538.93 59.9L538.93 68.7Z" fill="#fff" stroke="#f01818" stroke-width="1.0"/><path d="M536.19 61.53L538.93 59.9L538.93 68.7L536.19 67.07Z" fill="#f01818" stroke="#f01818" stroke-width="1.0"/>
</svg>
<div style="position:absolute;left:37.9px;top:214.7px;transform:translate(-100%,-50%);font:normal 13px/1 'Liberation Sans', sans-serif;white-space:nowrap">0</div>
<div style="position:absolute;left:37.9px;top:173.1px;transform:translate(-100%,-50%);font:normal 13px/1 'Liberation Sans', sans-serif;white-space:nowrap">20</div>
<div style="position:absolute;left:37.9px;top:131.5px;transform:translate(-100%,-50%);font:normal 13px/1 'Liberation Sans', sans-serif;white-space:nowrap">40</div>
<div style="position:absolute;left:37.9px;top:89.9px;transform:translate(-100%,-50%);font:normal 13px/1 'Liberation Sans', sans-serif;white-space:nowrap">60</div>
<div style="position:absolute;left:37.9px;top:48.3px;transform:translate(-100%,-50%);font:normal 13px/1 'Liberation Sans', sans-serif;white-space:nowrap">80</div>
<div style="position:absolute;left:37.9px;top:6.7px;transform:translate(-100%,-50%);font:normal 13px/1 'Liberation Sans', sans-serif;white-space:nowrap">100</div>
<div style="position:absolute;left:45.3px;top:234.1px;transform:translate(-50%,-50%);font:normal 13px/1 'Liberation Sans', sans-serif;white-space:nowrap">100</div>
<div style="position:absolute;left:123.63px;top:234.1px;transform:translate(-50%,-50%);font:normal 13px/1 'Liberation Sans', sans-serif;white-space:nowrap">200</div>
<div style="position:absolute;left:201.97px;top:234.1px;transform:translate(-50%,-50%);font:normal 13px/1 'Liberation Sans', sans-serif;white-space:nowrap">300</div>
<div style="position:absolute;left:280.3px;top:234.1px;transform:translate(-50%,-50%);font:normal 13px/1 'Liberation Sans', sans-serif;white-space:nowrap">400</div>
<div style="position:absolute;left:360.2px;top:222.3px;transform:translate(-100%,-50%);font:normal 13px/1 'Liberation Sans', sans-serif;white-space:nowrap">0</div>
<div style="position:absolute;left:360.2px;top:179.38px;transform:translate(-100%,-50%);font:normal 13px/1 'Liberation Sans', sans-serif;white-space:nowrap">10</div>
<div style="position:absolute;left:360.2px;top:136.46px;transform:translate(-100%,-50%);font:normal 13px/1 'Liberation Sans', sans-serif;white-space:nowrap">20</div>
<div style="position:absolute;left:360.2px;top:93.54px;transform:translate(-100%,-50%);font:normal 13px/1 'Liberation Sans', sans-serif;white-space:nowrap">30</div>
<div style="position:absolute;left:360.2px;top:50.62px;transform:translate(-100%,-50%);font:normal 13px/1 'Liberation Sans', sans-serif;white-space:nowrap">40</div>
<div style="position:absolute;left:360.2px;top:7.7px;transform:translate(-100%,-50%);font:normal 13px/1 'Liberation Sans', sans-serif;white-space:nowrap">50</div>
<div style="position:absolute;left:367.5px;top:239.2px;transform:translate(-50%,-50%);font:normal 13px/1 'Liberation Sans', sans-serif;white-space:nowrap">100</div>
<div style="position:absolute;left:448.33px;top:239.2px;transform:translate(-50%,-50%);font:normal 13px/1 'Liberation Sans', sans-serif;white-space:nowrap">200</div>
<div style="position:absolute;left:529.17px;top:239.2px;transform:translate(-50%,-50%);font:normal 13px/1 'Liberation Sans', sans-serif;white-space:nowrap">300</div>
<div style="position:absolute;left:610px;top:239.2px;transform:translate(-50%,-50%);font:normal 13px/1 'Liberation Sans', sans-serif;white-space:nowrap">400</div>
<div style="position:absolute;left:229.2px;top:30.5px;transform:translate(0,-50%);font:normal 13px/1 'Liberation Sans', sans-serif;white-space:nowrap">x = 11</div>
<div style="position:absolute;left:229.2px;top:46.7px;transform:translate(0,-50%);font:normal 13px/1 'Liberation Sans', sans-serif;white-space:nowrap">x = 12</div>
<div style="position:absolute;left:229.2px;top:63.1px;transform:translate(0,-50%);font:normal 13px/1 'Liberation Sans', sans-serif;white-space:nowrap">x = 13</div>
<div style="position:absolute;left:229.2px;top:79.3px;transform:translate(0,-50%);font:normal 13px/1 'Liberation Sans', sans-serif;white-space:nowrap">x = 14</div>
<div style="position:absolute;left:229.2px;top:95.4px;transform:translate(0,-50%);font:normal 13px/1 'Liberation Sans', sans-serif;white-space:nowrap">x = 15</div>
<div style="position:absolute;left:555.2px;top:30.6px;transform:translate(0,-50%);font:normal 13.5px/1 'Liberation Sans', sans-serif;white-space:nowrap">x = 13</div>
<div style="position:absolute;left:555.2px;top:47.9px;transform:translate(0,-50%);font:normal 13.5px/1 'Liberation Sans', sans-serif;white-space:nowrap">x = 14</div>
<div style="position:absolute;left:555.2px;top:64.4px;transform:translate(0,-50%);font:normal 13.5px/1 'Liberation Sans', sans-serif;white-space:nowrap">x = 15</div>
<div style="position:absolute;left:8.6px;top:113.6px;transform:translate(-50%,-50%) rotate(-90deg);font:bold 13px/1 'Liberation Sans', sans-serif;letter-spacing:-0.25px;white-space:nowrap">M (emu.g<sup style="font-size:8px;vertical-align:6.5px;line-height:0;letter-spacing:0">-1</sup>)</div>
<div style="position:absolute;left:328.3px;top:112.8px;transform:translate(-50%,-50%) rotate(-90deg);font:bold 13px/1 'Liberation Sans', sans-serif;letter-spacing:-0.25px;white-space:nowrap">M (emu.g<sup style="font-size:8px;vertical-align:6.5px;line-height:0;letter-spacing:0">-1</sup>)</div>
<div style="position:absolute;left:161.3px;top:249.6px;transform:translate(-50%,-50%);font:bold 12.6px/1 'Liberation Sans', sans-serif;white-space:nowrap">T (K)</div>
<div style="position:absolute;left:485.3px;top:252px;transform:translate(-50%,-50%);font:bold 12.6px/1 'Liberation Sans', sans-serif;white-space:nowrap">T (K)</div>
<div class="ns" style="position:absolute;left:151px;top:273.4px;transform:translate(-50%,-50%);font:normal 13.8px/1 'Liberation Serif', serif;white-space:nowrap">(<b>a</b>)</div>
<div class="ns" style="position:absolute;left:477.2px;top:277.2px;transform:translate(-50%,-50%);font:normal 13.8px/1 'Liberation Serif', serif;white-space:nowrap">(<b>b</b>)</div>
</body></html>
